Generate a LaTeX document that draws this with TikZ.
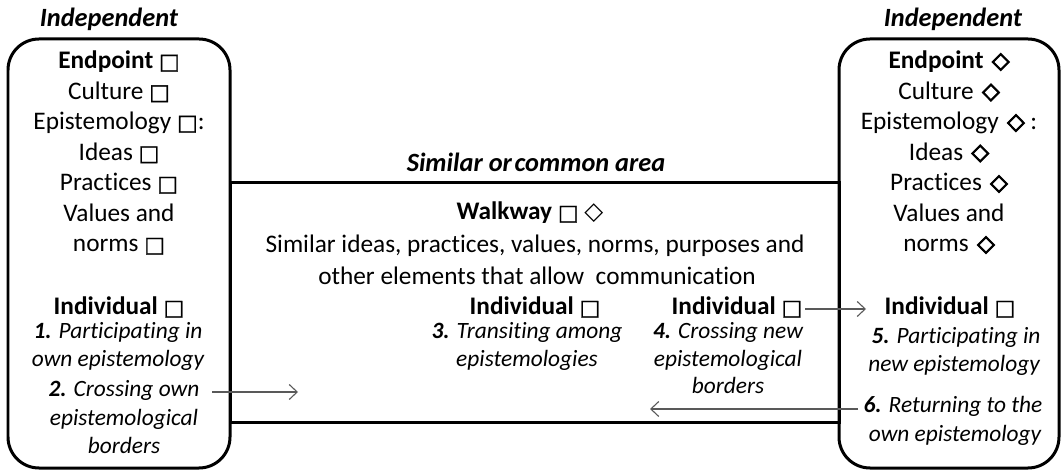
\documentclass[tikz,border=0pt]{standalone}
\usepackage{fontspec}
\setmainfont{Carlito}[Ligatures=NoCommon]
\newfontfamily\symfont{DejaVu Sans}
\newfontfamily\symbold{DejaVu Sans}[FakeBold=4]
\newfontfamily\symmid{DejaVu Sans}[FakeBold=1.2]
\usetikzlibrary{arrows.meta}
\newcommand{\sqr}{{\symmid\fontsize{12.5}{12.5}\selectfont □}}
\newcommand{\dmd}{\hspace{1.5pt}\raisebox{0.6pt}{\symbold\fontsize{13}{13}\selectfont ◇}}
\newcommand{\dmdthin}{{\symfont\fontsize{14}{14}\selectfont ◇}}
\tikzset{
  txt/.style={font=\fontsize{14.4}{16}\selectfont, inner sep=0pt, anchor=base},
  itxt/.style={font=\fontsize{13.3}{15}\selectfont\itshape, inner sep=0pt, anchor=base},
  head/.style={font=\fontsize{15}{17}\selectfont\bfseries\itshape, inner sep=0pt, anchor=base},
  boxline/.style={line width=0.06cm, black},
  flow/.style={draw=black!65, line width=0.022cm, -{Straight Barb[length=1.6mm,width=3mm]}}
}
\begin{document}
\begin{tikzpicture}[x=0.02cm,y=-0.02cm]
\useasboundingbox (0,0) rectangle (1063,473);
% boxes
\draw[boxline, rounded corners=0.62cm] (8,39) rectangle (230,468);
\draw[boxline, rounded corners=0.62cm] (839,39) rectangle (1059,468);
\draw[boxline] (230,183) rectangle (839,422);
% headings
\node[head] (indL) at (109,27) {Independent};
\node[head] (indR) at (953,27) {Independent};
\node[head] (common) at (536,172) {Similar {\spaceskip=0.1em\relax or common} area};
% left box
\foreach \t [count=\i] in {{\textbf{Endpoint} \sqr}, {Culture \sqr}, {Epistemology \sqr:}, {Ideas \sqr}, {Practices \sqr}, {Values and}, {norms \sqr}}
  \node[txt] (lt\i) at (119,{69+30.5*(\i-1)}) {\t};
\node[txt] (lind) at (119,315) {\textbf{Individual} \sqr};
\node[itxt] (l1a) at (118,338) {\textbf{1.} Participating in};
\node[itxt] (l1b) at (118,366) {own epistemology};
\node[itxt] (l2a) at (124,397) {\textbf{2.} Crossing own};
\node[itxt] (l2b) at (124,425) {epistemological};
\node[itxt] (l2c) at (124,453) {borders};
% right box
\foreach \t [count=\i] in {{\textbf{Endpoint} \dmd}, {Culture \dmd}, {Epistemology \dmd\ :}, {Ideas \dmd}, {Practices \dmd}, {Values and}, {norms \dmd}}
  \node[txt] (rt\i) at (949,{69+30.5*(\i-1)}) {\t};
\node[txt] (rind) at (950,315) {\textbf{Individual} \sqr};
\node[itxt] (r5a) at (956,343) {\textbf{5.} Participating in};
\node[itxt] (r5b) at (954,372) {new epistemology};
\node[itxt] (r6a) at (953,413) {\textbf{6.} Returning to the};
\node[itxt] (r6b) at (955,441) {own epistemology};
% middle
\node[txt] (walk) at (530,220) {\textbf{Walkway} \sqr\ \dmdthin};
\node[txt] (sim1) at (535,253) {Similar ideas, practices, values, norms, purposes and};
\node[txt] (sim2) at (537,285) {other elements that allow\ \ communication};
\node[txt] (mind) at (535,315) {\textbf{Individual} \sqr};
\node[itxt] (m3a) at (527,338) {\textbf{3.} Transiting among};
\node[itxt] (m3b) at (527,366) {epistemologies};
\node[txt] (nind) at (737,315) {\textbf{Individual} \sqr};
\node[itxt] (m4a) at (728,338) {\textbf{4.} Crossing new};
\node[itxt] (m4b) at (728,366) {epistemological};
\node[itxt] (m4c) at (728,394) {borders};
% arrows
\coordinate (a1s) at (212,392);
\coordinate (a1e) at (298,392);
\coordinate (a2s) at (805,309);
\coordinate (a2e) at (866,309);
\coordinate (a3s) at (858,409);
\coordinate (a3e) at (650,409);
\draw[flow] (a1s) -- (a1e);
\draw[flow] (a2s) -- (a2e);
\draw[flow] (a3s) -- (a3e);
\end{tikzpicture}
\end{document}
